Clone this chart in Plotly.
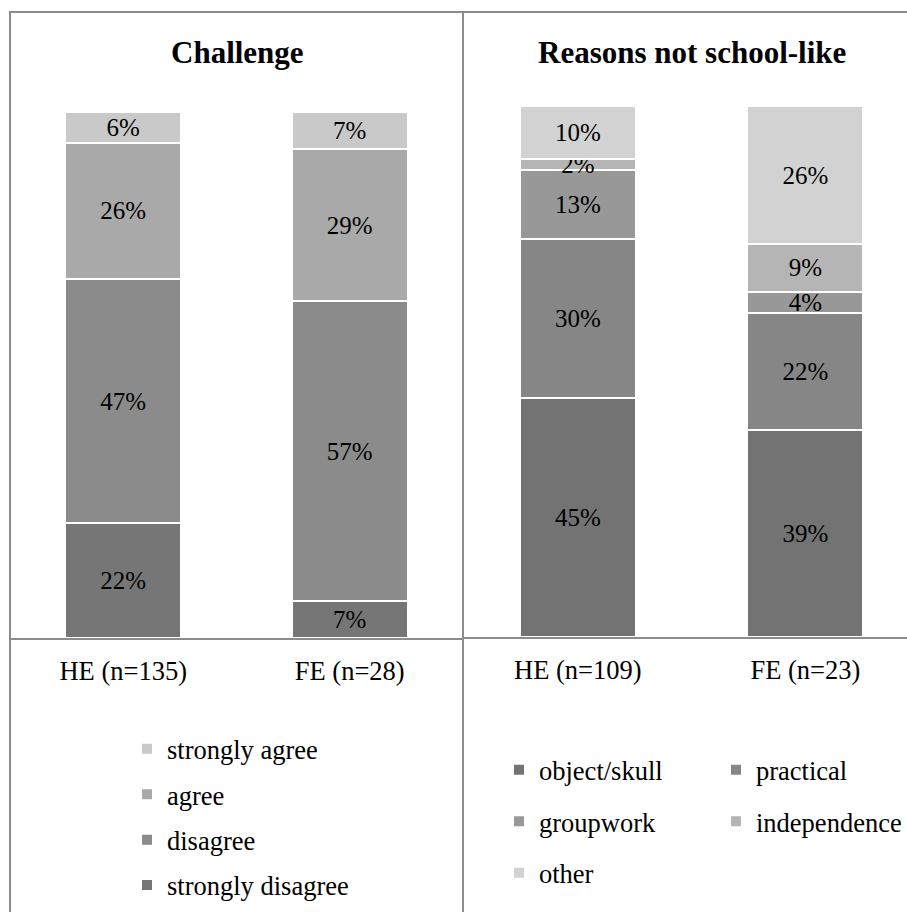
import plotly.graph_objects as go

W, H = 907, 912

# Panel 1: Challenge
challenge_groups = ["HE (n=135)", "FE (n=28)"]
challenge_levels = ["strongly disagree", "disagree", "agree", "strongly agree"]
challenge_values = {
    "strongly disagree": [22, 7],
    "disagree": [47, 57],
    "agree": [26, 29],
    "strongly agree": [6, 7],
}
challenge_colors = {
    "strongly disagree": "#767676",
    "disagree": "#8b8b8b",
    "agree": "#a9a9a9",
    "strongly agree": "#c9c9c9",
}

# Panel 2: Reasons not school-like
reasons_groups = ["HE (n=109)", "FE (n=23)"]
reasons_levels = ["object/skull", "practical", "groupwork", "independence", "other"]
reasons_values = {
    "object/skull": [45, 39],
    "practical": [30, 22],
    "groupwork": [13, 4],
    "independence": [2, 9],
    "other": [10, 26],
}
reasons_colors = {
    "object/skull": "#737373",
    "practical": "#868686",
    "groupwork": "#989898",
    "independence": "#b5b5b5",
    "other": "#d2d2d2",
}
reasons_legend = {
    "object/skull": "legend2",
    "groupwork": "legend2",
    "other": "legend2",
    "practical": "legend3",
    "independence": "legend3",
}

FONT = "Liberation Serif, Times New Roman, serif"


def px_x(v):
    return v / W


def px_y(v):
    return 1 - v / H


fig = go.Figure()

n_levels = len(challenge_levels)
for i, lvl in enumerate(challenge_levels):
    vals = challenge_values[lvl]
    fig.add_trace(go.Bar(
        x=challenge_groups, y=vals, name=lvl,
        marker=dict(color=challenge_colors[lvl], line=dict(color="white", width=2)),
        width=0.51,
        text=[f"{v}%" for v in vals], textposition="inside",
        insidetextanchor="middle", constraintext="none", textangle=0,
        textfont=dict(family=FONT, size=25, color="black"),
        hoverinfo="skip", legend="legend", legendgroup="c_" + lvl,
        legendrank=n_levels - i,
        xaxis="x", yaxis="y",
    ))

for lvl in reasons_levels:
    vals = reasons_values[lvl]
    fig.add_trace(go.Bar(
        x=reasons_groups, y=vals, name=lvl,
        marker=dict(color=reasons_colors[lvl], line=dict(color="white", width=2)),
        width=0.51,
        text=[f"{v}%" for v in vals], textposition="inside",
        insidetextanchor="middle", constraintext="none", textangle=0,
        textfont=dict(family=FONT, size=25, color="black"),
        hoverinfo="skip", legend=reasons_legend[lvl], legendgroup="r_" + lvl,
        xaxis="x2", yaxis="y2",
    ))

axis_common = dict(
    showgrid=False, zeroline=False, ticks="", showline=True,
    linecolor="#8c8c8c", linewidth=2,
    tickfont=dict(family=FONT, size=26.5, color="black"),
    ticklabelstandoff=8, fixedrange=True,
)

legend_common = dict(
    orientation="v", bgcolor="rgba(0,0,0,0)", borderwidth=0,
    font=dict(family=FONT, size=26.5, color="black"),
    xanchor="left", yanchor="top", itemclick=False, itemdoubleclick=False,
)

frame = "#8c8c8c"
shapes = [
    dict(type="line", xref="paper", yref="paper", x0=px_x(10), x1=1, y0=px_y(12), y1=px_y(12),
         line=dict(color=frame, width=2)),
    dict(type="line", xref="paper", yref="paper", x0=px_x(10), x1=px_x(10), y0=px_y(11), y1=0,
         line=dict(color=frame, width=2)),
    dict(type="line", xref="paper", yref="paper", x0=px_x(463), x1=px_x(463), y0=px_y(11), y1=0,
         line=dict(color=frame, width=2)),
]

fig.update_layout(
    width=W, height=H,
    margin=dict(l=0, r=0, t=0, b=0, autoexpand=False),
    paper_bgcolor="white", plot_bgcolor="white",
    barmode="stack", barnorm="percent", bargap=0.49,
    showlegend=True,
    xaxis=dict(domain=[px_x(10), px_x(463)], range=[-0.5, 1.5], anchor="y", **axis_common),
    yaxis=dict(domain=[px_y(638), px_y(112)], range=[0, 100], visible=False, fixedrange=True),
    xaxis2=dict(domain=[px_x(464), 1], range=[-0.5, (907 - 578) / 227.5], anchor="y2", **axis_common),
    yaxis2=dict(domain=[px_y(637), px_y(106)], range=[0, 100], visible=False, fixedrange=True),
    legend=dict(x=px_x(127), y=px_y(725), traceorder="grouped", tracegroupgap=8, **legend_common),
    legend2=dict(x=px_x(499), y=px_y(746), traceorder="grouped", tracegroupgap=14, **legend_common),
    legend3=dict(x=px_x(716), y=px_y(746), traceorder="grouped", tracegroupgap=14, **legend_common),
    shapes=shapes,
    annotations=[
        dict(text="<b>Challenge</b>", xref="paper", yref="paper", x=px_x(237), y=px_y(53),
             xanchor="center", yanchor="middle", showarrow=False,
             font=dict(family=FONT, size=31, color="black")),
        dict(text="<b>Reasons not school-like</b>", xref="paper", yref="paper", x=px_x(692), y=px_y(53),
             xanchor="center", yanchor="middle", showarrow=False,
             font=dict(family=FONT, size=31, color="black")),
    ],
)

fig.write_html("out.html")
